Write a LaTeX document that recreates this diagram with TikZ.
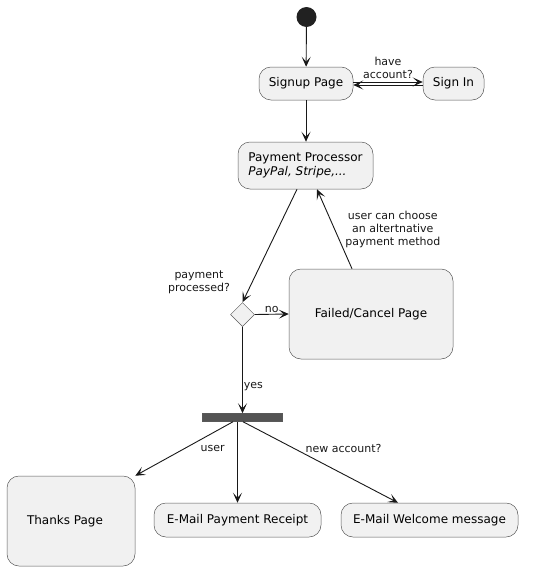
\documentclass[tikz,border=0pt]{standalone}
\usepackage{fontspec}
\setmainfont{DejaVu Sans}
\usetikzlibrary{shapes.geometric, arrows.meta}
\definecolor{actfill}{HTML}{F1F1F1}
\definecolor{actline}{HTML}{181818}
\tikzstyle{act}=[draw=black!65, line width=0.5pt, fill=actfill, rounded corners=12pt, font=\fontsize{12}{14}\selectfont, inner sep=0pt]
\tikzstyle{choice}=[diamond, draw=black!65, line width=0.5pt, fill=actfill, minimum width=24pt, minimum height=24pt, inner sep=0pt]
\tikzstyle{bar}=[draw=black!65, line width=0.5pt, fill=black!67, minimum width=80pt, minimum height=8pt, inner sep=0pt]
\tikzstyle{flow}=[line width=0.9pt, draw=actline, -{Stealth[length=10pt, width=9pt, inset=5pt]}]
\tikzstyle{lbl}=[font=\fontsize{11}{13}\selectfont, inner sep=1pt, text=actline]

\begin{document}
\begin{tikzpicture}[x=1pt, y=-1pt]
    \useasboundingbox (0,0) rectangle (533,570);
    \node [circle, fill=black!87, minimum size=20pt, inner sep=0pt] (start) at (306.5,17) {};
    \node [act, minimum width=94pt, minimum height=33pt] (signup) at (306,83.5) {Signup Page};
    \node [act, minimum width=61pt, minimum height=33pt] (signin) at (453.5,83.5) {Sign In};
    \node [act, minimum width=135pt, minimum height=47pt, align=left] (pay) at (305.5,165.5) {Payment Processor\\\textit{PayPal, Stripe,...}};
    \node [choice] (chk) at (242.5,314.5) {};
    \node [lbl, align=center] (chklbl) at (199,282) {payment\\processed?};
    \node [act, minimum width=164pt, minimum height=90pt] (failed) at (371,314) {Failed/Cancel Page};
    \node [bar] (fork) at (242,417.5) {};
    \node [act, minimum width=128pt, minimum height=90pt] (thanks) at (71,521) {Thanks Page\hspace*{12pt}};
    \node [act, minimum width=167pt, minimum height=34pt] (receipt) at (237.5,520) {E-Mail Payment Receipt};
    \node [act, minimum width=177pt, minimum height=34pt] (welcome) at (429.5,520) {E-Mail Welcome message};
    \draw [flow] (start) -- (signup);
    \draw [flow] ([yshift=1.5pt]signup.east) -- ([yshift=1.5pt]signin.west) node [lbl, midway, above=2pt, align=center] {have\\account?};
    \draw [flow] ([yshift=-1.5pt]signin.west) -- ([yshift=-1.5pt]signup.east);
    \draw [flow] (signup.south) -- (signup.south |- pay.north);
    \draw [flow] ([xshift=-8.5pt]pay.south) -- (chk.north);
    \draw [flow] (chk.east) -- (failed.west) node [lbl, midway, above] {no};
    \draw [flow] ([xshift=-19pt]failed.north) -- ([xshift=11.5pt]pay.south) node [lbl, pos=0.49, right=9pt, align=center] {user can choose\\an altertnative\\payment method};
    \draw [flow] (chk.south) -- (chk.south |- fork.north) node [lbl, pos=0.69, right] {yes};
    \draw [flow] ([xshift=-9pt]fork.south) -- (thanks.north east) node [lbl, pos=0.5, right=15pt] {user};
    \draw [flow] (fork.south -| receipt.north) -- (receipt.north);
    \draw [flow] ([xshift=1pt]fork.south) -- ([xshift=-31.5pt]welcome.north) node [lbl, pos=0.33, right=10pt] {new account?};
\end{tikzpicture}
\end{document}
